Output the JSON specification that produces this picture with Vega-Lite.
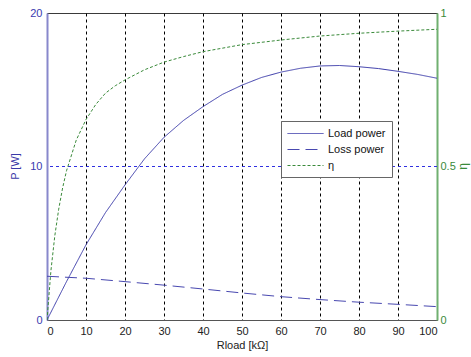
{
  "$schema": "https://vega.github.io/schema/vega-lite/v6.json",
  "autosize": "none",
  "width": 390,
  "height": 307,
  "padding": {"left": 47, "top": 13, "right": 34, "bottom": 37},
  "background": "white",
  "config": {
    "font": "Liberation Sans",
    "view": {"stroke": "#3a3a3a", "strokeWidth": 1}
  },
  "datasets": {
    "power": [
      {"R": 0, "series": "Load power", "value": 0},
      {"R": 2.5, "series": "Load power", "value": 1.25},
      {"R": 5, "series": "Load power", "value": 2.5},
      {"R": 7.5, "series": "Load power", "value": 3.7},
      {"R": 10, "series": "Load power", "value": 4.9},
      {"R": 15, "series": "Load power", "value": 7.0},
      {"R": 20, "series": "Load power", "value": 8.8},
      {"R": 25, "series": "Load power", "value": 10.5},
      {"R": 30, "series": "Load power", "value": 11.9},
      {"R": 35, "series": "Load power", "value": 13.0},
      {"R": 40, "series": "Load power", "value": 13.9},
      {"R": 45, "series": "Load power", "value": 14.7},
      {"R": 50, "series": "Load power", "value": 15.3},
      {"R": 55, "series": "Load power", "value": 15.8},
      {"R": 60, "series": "Load power", "value": 16.15},
      {"R": 65, "series": "Load power", "value": 16.4},
      {"R": 70, "series": "Load power", "value": 16.55},
      {"R": 75, "series": "Load power", "value": 16.58},
      {"R": 80, "series": "Load power", "value": 16.5},
      {"R": 85, "series": "Load power", "value": 16.38},
      {"R": 90, "series": "Load power", "value": 16.2},
      {"R": 95, "series": "Load power", "value": 16.0},
      {"R": 100, "series": "Load power", "value": 15.75},
      {"R": 0, "series": "Loss power", "value": 2.85},
      {"R": 10, "series": "Loss power", "value": 2.72},
      {"R": 20, "series": "Loss power", "value": 2.5},
      {"R": 30, "series": "Loss power", "value": 2.27},
      {"R": 40, "series": "Loss power", "value": 2.02},
      {"R": 50, "series": "Loss power", "value": 1.76},
      {"R": 60, "series": "Loss power", "value": 1.52},
      {"R": 70, "series": "Loss power", "value": 1.33},
      {"R": 80, "series": "Loss power", "value": 1.16},
      {"R": 90, "series": "Loss power", "value": 1.02},
      {"R": 100, "series": "Loss power", "value": 0.87}
    ],
    "eff": [
      {"R": 0, "series": "η", "value": 0},
      {"R": 1, "series": "η", "value": 0.16},
      {"R": 2, "series": "η", "value": 0.274},
      {"R": 3, "series": "η", "value": 0.361},
      {"R": 4, "series": "η", "value": 0.43},
      {"R": 5, "series": "η", "value": 0.486},
      {"R": 7.5, "series": "η", "value": 0.586},
      {"R": 10, "series": "η", "value": 0.653},
      {"R": 12.5, "series": "η", "value": 0.702},
      {"R": 15, "series": "η", "value": 0.739},
      {"R": 17.5, "series": "η", "value": 0.763},
      {"R": 20, "series": "η", "value": 0.782},
      {"R": 25, "series": "η", "value": 0.815},
      {"R": 30, "series": "η", "value": 0.84},
      {"R": 35, "series": "η", "value": 0.858},
      {"R": 40, "series": "η", "value": 0.874},
      {"R": 50, "series": "η", "value": 0.897},
      {"R": 60, "series": "η", "value": 0.912},
      {"R": 70, "series": "η", "value": 0.925},
      {"R": 80, "series": "η", "value": 0.934},
      {"R": 90, "series": "η", "value": 0.941},
      {"R": 100, "series": "η", "value": 0.947}
    ],
    "hgrid": [{"value": 10}]
  },
  "layer": [
    {
      "layer": [
        {
          "data": {"name": "hgrid"},
          "mark": {"type": "rule", "stroke": "#3030e0", "strokeWidth": 1, "strokeDash": [3, 3]},
          "encoding": {"y": {"field": "value", "type": "quantitative"}}
        },
        {
          "data": {"name": "power"},
          "mark": {"type": "line", "strokeWidth": 1, "clip": true},
          "encoding": {
            "x": {
              "field": "R", "type": "quantitative",
              "scale": {"domain": [0, 100], "nice": false, "zero": false},
              "axis": {
                "values": [0, 10, 20, 30, 40, 50, 60, 70, 80, 90, 100],
                "labelOverlap": false,
                "title": "Rload [kΩ]",
                "titleFont": "Liberation Sans", "titleFontSize": 11, "titleFontWeight": "normal", "titleColor": "#222",
                "titleY": 25, "titleBaseline": "middle",
                "labelFont": "Liberation Sans", "labelFontSize": 11, "labelColor": "#222",
                "labelPadding": 5, "ticks": false,
                "domainColor": "#555",
                "grid": true, "gridColor": "#000", "gridDash": [3, 3], "gridWidth": 1,
                "gridOpacity": {"condition": {"test": "datum.value > 0 && datum.value < 100", "value": 1}, "value": 0}
              }
            },
            "y": {
              "field": "value", "type": "quantitative",
              "scale": {"domain": [0, 20], "nice": false},
              "axis": {
                "orient": "left",
                "values": [0, 10, 20],
                "title": "P [W]",
                "titleFont": "Liberation Sans", "titleFontSize": 11, "titleFontWeight": "normal", "titleColor": "#3a3aa8",
                "titleX": -32, "titleY": 153, "titleBaseline": "middle", "titleAngle": -90,
                "labelFont": "Liberation Sans", "labelFontSize": 11, "labelColor": "#3a3ab0",
                "labelPadding": 5, "ticks": false,
                "domainColor": "#8888cc", "domainWidth": 2,
                "grid": false
              }
            },
            "color": {
              "field": "series", "type": "nominal",
              "scale": {"domain": ["Load power", "Loss power", "η"], "range": ["#3c3caa", "#4848b0", "#3a8a3a"]},
              "legend": {
                "title": null, "orient": "none", "legendX": 234, "legendY": 108,
                "symbolType": "M-1,0L5,0", "symbolSize": 144, "symbolStrokeWidth": 1,
                "labelOffset": 28, "labelFont": "Liberation Sans", "labelFontSize": 11, "labelColor": "#111",
                "rowPadding": 4, "padding": 6,
                "strokeColor": "#666", "fillColor": "white"
              }
            },
            "strokeDash": {
              "field": "series", "type": "nominal",
              "scale": {"domain": ["Load power", "Loss power", "η"], "range": [[1, 0], [12, 6], [3, 2]]},
              "legend": {
                "title": null, "orient": "none", "legendX": 234, "legendY": 108,
                "symbolType": "M-1,0L5,0", "symbolSize": 144, "symbolStrokeWidth": 1,
                "labelOffset": 28, "labelFont": "Liberation Sans", "labelFontSize": 11, "labelColor": "#111",
                "rowPadding": 4, "padding": 6,
                "strokeColor": "#666", "fillColor": "white"
              }
            }
          }
        }
      ]
    },
    {
      "data": {"name": "eff"},
      "mark": {"type": "line", "strokeWidth": 1, "clip": true},
      "encoding": {
        "x": {
          "field": "R", "type": "quantitative",
          "axis": {
            "values": [0, 10, 20, 30, 40, 50, 60, 70, 80, 90, 100],
            "labelOverlap": false,
            "title": "Rload [kΩ]",
            "titleFont": "Liberation Sans", "titleFontSize": 11, "titleFontWeight": "normal", "titleColor": "#222",
            "titleY": 25, "titleBaseline": "middle",
            "labelFont": "Liberation Sans", "labelFontSize": 11, "labelColor": "#222",
            "labelPadding": 5, "ticks": false,
            "domainColor": "#555",
            "grid": true, "gridColor": "#000", "gridDash": [3, 3], "gridWidth": 1,
            "gridOpacity": {"condition": {"test": "datum.value > 0 && datum.value < 100", "value": 1}, "value": 0}
          }
        },
        "y": {
          "field": "value", "type": "quantitative",
          "scale": {"domain": [0, 1], "nice": false},
          "axis": {
            "orient": "right",
            "values": [0, 0.5, 1],
            "format": "~g",
            "title": "η",
            "titleFont": "Liberation Sans", "titleFontSize": 12, "titleFontWeight": "normal", "titleColor": "#3a8a3a",
            "titleX": 25, "titleY": 153, "titleBaseline": "middle", "titleAngle": -90,
            "labelFont": "Liberation Sans", "labelFontSize": 11, "labelColor": "#3a8a3a",
            "labelPadding": 3, "ticks": false,
            "domainColor": "#70b070", "domainWidth": 2,
            "grid": false
          }
        },
        "color": {"field": "series", "type": "nominal"},
        "strokeDash": {"field": "series", "type": "nominal"}
      }
    }
  ],
  "resolve": {"scale": {"y": "independent"}, "axis": {"y": "independent"}}
}
